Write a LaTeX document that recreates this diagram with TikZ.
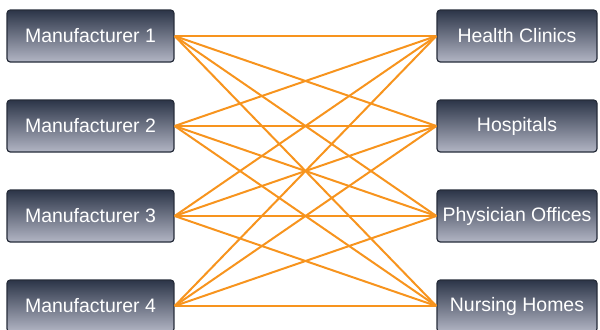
\documentclass[tikz,border=0pt]{standalone}
\usepackage{fontspec}
\setmainfont{Liberation Sans}

\tikzset{every picture/.style={line width=0.75pt}}
\tikzset{
  slatebox/.style={draw={rgb, 255:red, 38; green, 44; blue, 58 }, line width=0.9pt,
    rounded corners=2.5pt, top color={rgb, 255:red, 44; green, 53; blue, 72 },
    bottom color={rgb, 255:red, 178; green, 181; blue, 196 },
    text={rgb, 255:red, 255; green, 255; blue, 255 }, inner sep=0pt,
    minimum height=39pt, font=\fontsize{14.6pt}{17pt}\selectfont},
  leftbox/.style={slatebox, minimum width=125.25pt},
  rightbox/.style={slatebox, minimum width=120pt},
  feed/.style={draw={rgb, 255:red, 247; green, 148; blue, 30 }, line width=1.5pt}
}

\begin{document}
\begin{tikzpicture}[x=0.75pt,y=0.75pt,yscale=-1,xscale=1]
	\useasboundingbox (0,0) rectangle (600,329);

	% Text Node
	\node [leftbox] (man1) at (90.5,36) {Manufacturer 1};
	% Text Node
	\node [leftbox] (man2) at (90.5,126) {Manufacturer 2};
	% Text Node
	\node [leftbox] (man3) at (90.5,216) {Manufacturer 3};
	% Text Node
	\node [leftbox] (man4) at (90.5,306) {Manufacturer 4};
	% Text Node
	\node [rightbox] (clinics) at (517,36) {Health Clinics};
	% Text Node
	\node [rightbox] (hospitals) at (517,126) {Hospitals};
	% Text Node
	\node [rightbox] (offices) at (517,216) {Physician Offices};
	% Text Node
	\node [rightbox] (homes) at (517,306) {Nursing Homes};

	%Straight Lines from Manufacturer 1
	\draw [feed] (man1.east) -- (clinics.west) ;
	\draw [feed] (man1.east) -- (hospitals.west) ;
	\draw [feed] (man1.east) -- (offices.west) ;
	\draw [feed] (man1.east) -- (homes.west) ;
	%Straight Lines from Manufacturer 2
	\draw [feed] (man2.east) -- (clinics.west) ;
	\draw [feed] (man2.east) -- (hospitals.west) ;
	\draw [feed] (man2.east) -- (offices.west) ;
	\draw [feed] (man2.east) -- (homes.west) ;
	%Straight Lines from Manufacturer 3
	\draw [feed] (man3.east) -- (clinics.west) ;
	\draw [feed] (man3.east) -- (hospitals.west) ;
	\draw [feed] (man3.east) -- (offices.west) ;
	\draw [feed] (man3.east) -- (homes.west) ;
	%Straight Lines from Manufacturer 4
	\draw [feed] (man4.east) -- (clinics.west) ;
	\draw [feed] (man4.east) -- (hospitals.west) ;
	\draw [feed] (man4.east) -- (offices.west) ;
	\draw [feed] (man4.east) -- (homes.west) ;

\end{tikzpicture}
\end{document}
